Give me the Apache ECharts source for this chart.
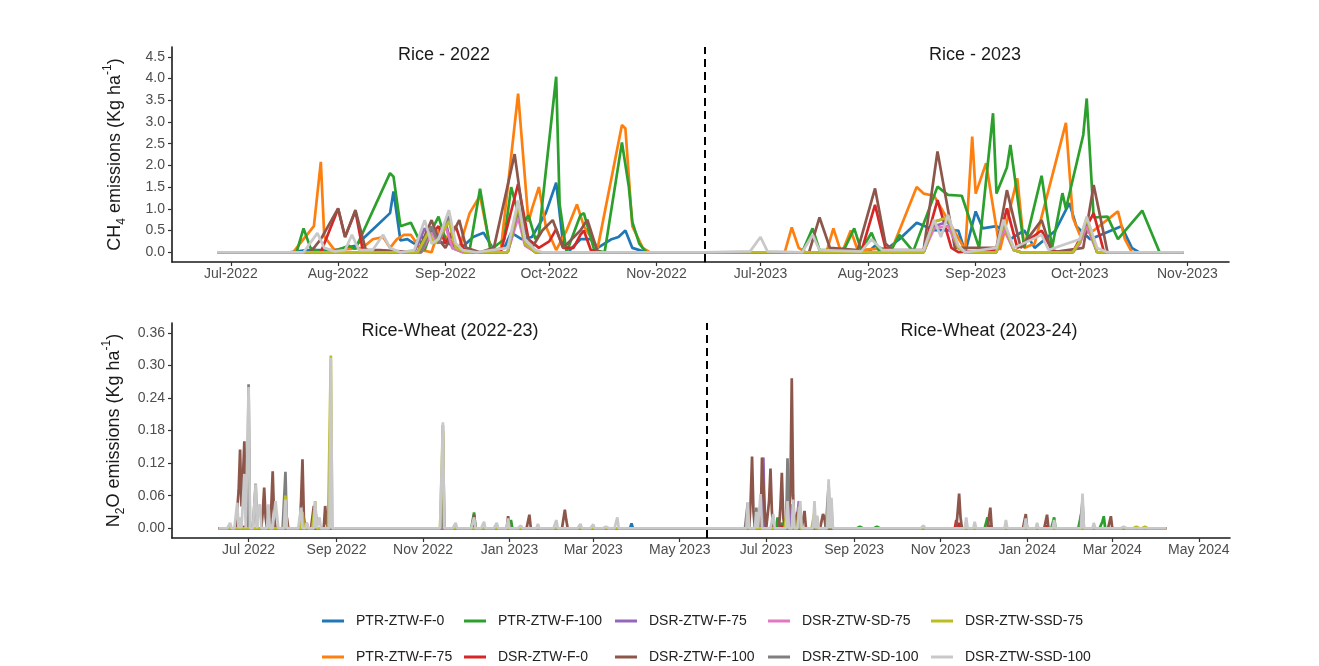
<!DOCTYPE html>
<html>
<head>
<meta charset="utf-8">
<title>CH4 and N2O emissions</title>
<script src="https://cdn.jsdelivr.net/npm/echarts@6/dist/echarts.min.js"></script>
<style>
  html, body { margin: 0; padding: 0; background: #fff; }
  #chart { width: 1319px; height: 666px; }
</style>
</head>
<body>
<div id="chart"></div>
<script>
// ---- treatments (legend order) and colours ----
const treatments = ["PTR-ZTW-F-0", "PTR-ZTW-F-75", "PTR-ZTW-F-100", "DSR-ZTW-F-0", "DSR-ZTW-F-75",
  "DSR-ZTW-F-100", "DSR-ZTW-SD-75", "DSR-ZTW-SD-100", "DSR-ZTW-SSD-75", "DSR-ZTW-SSD-100"];
const colors = ["#1f77b4", "#ff7f0e", "#2ca02c", "#d62728", "#9467bd",
  "#8c564b", "#e377c2", "#7f7f7f", "#bcbd22", "#c8c8c8"];

// ---- axis ticks ----
const ch4Ticks2022 = ["2022-07-01", "2022-08-01", "2022-09-01", "2022-10-01", "2022-11-01"];
const ch4TickLabels2022 = ["Jul-2022", "Aug-2022", "Sep-2022", "Oct-2022", "Nov-2022"];
const ch4Ticks2023 = ["2023-07-01", "2023-08-01", "2023-09-01", "2023-10-01", "2023-11-01"];
const ch4TickLabels2023 = ["Jul-2023", "Aug-2023", "Sep-2023", "Oct-2023", "Nov-2023"];
const n2oTicks = ["2022-07-01", "2022-09-01", "2022-11-01", "2023-01-01", "2023-03-01", "2023-05-01",
  "2023-07-01", "2023-09-01", "2023-11-01", "2024-01-01", "2024-03-01", "2024-05-01"];
const n2oTickLabels = ["Jul 2022", "Sep 2022", "Nov 2022", "Jan 2023", "Mar 2023", "May 2023",
  "Jul 2023", "Sep 2023", "Nov 2023", "Jan 2024", "Mar 2024", "May 2024"];
const ch4YTicks = [0, 0.5, 1, 1.5, 2, 2.5, 3, 3.5, 4, 4.5];
const n2oYTicks = [0, 0.06, 0.12, 0.18, 0.24, 0.30, 0.36];

// ---- CH4 fluxes, rice 2022 (kg/ha) ----
const rice22_ptrF0 = [["2022-06-27",0],["2022-07-18",0],["2022-07-23",0.05],["2022-07-31",0.05],["2022-08-06",0.15],["2022-08-12",0.6],["2022-08-16",0.9],["2022-08-17",1.4],["2022-08-19",0.27],["2022-08-21",0.3],["2022-08-23",0.2],["2022-08-25",0.35],["2022-08-27",0.3],["2022-08-29",0.25],["2022-09-02",0.2],["2022-09-05",0.05],["2022-09-09",0.35],["2022-09-12",0.45],["2022-09-15",0.05],["2022-09-18",0.1],["2022-09-20",0.45],["2022-09-23",0.3],["2022-09-26",0.35],["2022-09-30",0.9],["2022-10-03",1.6],["2022-10-05",0.2],["2022-10-07",0.05],["2022-10-10",0.3],["2022-10-13",0.3],["2022-10-15",0.1],["2022-10-19",0.3],["2022-10-21",0.35],["2022-10-23",0.5],["2022-10-25",0.1],["2022-10-29",0],["2022-11-15",0]];
const rice22_ptrF75 = [["2022-06-27",0],["2022-07-19",0],["2022-07-22",0.3],["2022-07-25",0.6],["2022-07-27",2.08],["2022-07-28",0.36],["2022-07-31",0.05],["2022-08-08",0.1],["2022-08-11",0.3],["2022-08-14",0.35],["2022-08-16",0.1],["2022-08-18",0.3],["2022-08-20",0.4],["2022-08-22",0.4],["2022-08-25",0.05],["2022-08-28",0],["2022-08-30",0.5],["2022-09-02",0.3],["2022-09-05",0.1],["2022-09-08",0.9],["2022-09-11",1.3],["2022-09-14",0.1],["2022-09-17",0.05],["2022-09-22",3.65],["2022-09-25",0.7],["2022-09-26",1.0],["2022-09-28",1.5],["2022-09-30",0.6],["2022-10-03",0.05],["2022-10-06",0.5],["2022-10-09",1.1],["2022-10-11",0.6],["2022-10-15",0.1],["2022-10-22",2.93],["2022-10-23",2.85],["2022-10-25",0.6],["2022-10-28",0.1],["2022-10-30",0],["2022-11-15",0]];
const rice22_ptrF100 = [["2022-06-27",0],["2022-07-20",0],["2022-07-22",0.55],["2022-07-24",0.1],["2022-07-27",0],["2022-08-01",0.05],["2022-08-04",0.15],["2022-08-06",0.08],["2022-08-16",1.82],["2022-08-17",1.74],["2022-08-19",0.6],["2022-08-22",0.68],["2022-08-24",0.35],["2022-08-26",0.05],["2022-08-28",0.5],["2022-08-30",0.82],["2022-09-01",0.3],["2022-09-04",0.1],["2022-09-08",0.05],["2022-09-11",1.46],["2022-09-14",0.05],["2022-09-18",0.3],["2022-09-20",1.5],["2022-09-23",0.6],["2022-09-25",0.85],["2022-09-27",0.3],["2022-09-28",0.4],["2022-10-03",4.04],["2022-10-04",1.1],["2022-10-06",0],["2022-10-10",0.85],["2022-10-11",0.9],["2022-10-14",0.05],["2022-10-17",0],["2022-10-22",2.53],["2022-10-24",1.5],["2022-10-25",0.7],["2022-10-27",0.2],["2022-10-29",0],["2022-11-15",0]];
const rice22_dsrF0 = [["2022-06-27",0],["2022-07-27",0],["2022-08-01",1.0],["2022-08-03",0.35],["2022-08-06",0.95],["2022-08-08",0.1],["2022-08-11",0],["2022-08-25",0],["2022-08-27",0.3],["2022-08-30",0.6],["2022-09-01",0.2],["2022-09-04",0.6],["2022-09-06",0.1],["2022-09-09",0],["2022-09-17",0],["2022-09-22",1.57],["2022-09-25",0.3],["2022-09-28",0.1],["2022-10-01",0.25],["2022-10-03",0.53],["2022-10-05",0.1],["2022-10-08",0.1],["2022-10-10",0.4],["2022-10-11",0.5],["2022-10-13",0.05],["2022-10-16",0],["2022-11-15",0]];
const rice22_dsrF75 = [["2022-06-27",0],["2022-08-23",0],["2022-08-26",0.55],["2022-08-29",0.2],["2022-09-01",0.7],["2022-09-03",0.1],["2022-09-06",0],["2022-09-19",0],["2022-09-22",0.9],["2022-09-24",0.2],["2022-09-27",0],["2022-11-15",0]];
const rice22_dsrF100 = [["2022-06-27",0],["2022-07-24",0],["2022-07-27",0.3],["2022-08-01",1.01],["2022-08-03",0.35],["2022-08-06",0.97],["2022-08-09",0.05],["2022-08-13",0.05],["2022-08-24",0],["2022-08-28",0.74],["2022-08-30",0.3],["2022-09-01",0.1],["2022-09-05",0.74],["2022-09-07",0.1],["2022-09-11",0],["2022-09-15",0.1],["2022-09-21",2.26],["2022-09-24",0.5],["2022-09-26",0.1],["2022-09-29",0.5],["2022-10-02",0.74],["2022-10-05",0.1],["2022-10-10",0.5],["2022-10-12",0.75],["2022-10-15",0],["2022-11-15",0]];
const rice22_dsrSD75 = [["2022-06-27",0],["2022-08-25",0],["2022-08-28",0.45],["2022-08-30",0.2],["2022-09-01",0.6],["2022-09-03",0.1],["2022-09-06",0],["2022-09-19",0],["2022-09-22",0.8],["2022-09-24",0.15],["2022-09-27",0],["2022-11-15",0]];
const rice22_dsrSD100 = [["2022-06-27",0],["2022-08-25",0],["2022-08-28",0.6],["2022-08-30",0.2],["2022-09-02",0.85],["2022-09-04",0.1],["2022-09-07",0],["2022-09-19",0],["2022-09-22",1.0],["2022-09-24",0.2],["2022-09-27",0],["2022-11-15",0]];
const rice22_dsrSSD75 = [["2022-06-27",0],["2022-08-24",0],["2022-08-27",0.45],["2022-08-29",0.2],["2022-09-02",0.71],["2022-09-04",0.1],["2022-09-07",0],["2022-09-19",0],["2022-09-22",1.1],["2022-09-24",0.2],["2022-09-27",0],["2022-11-15",0]];
const rice22_dsrSSD100 = [["2022-06-27",0],["2022-07-22",0],["2022-07-26",0.44],["2022-07-28",0.1],["2022-07-31",0.02],["2022-08-03",0.05],["2022-08-05",0.4],["2022-08-07",0.05],["2022-08-11",0.05],["2022-08-14",0.4],["2022-08-16",0.1],["2022-08-19",0],["2022-08-23",0.05],["2022-08-26",0.74],["2022-08-28",0.2],["2022-08-30",0.3],["2022-09-02",0.97],["2022-09-04",0.2],["2022-09-06",0.05],["2022-09-10",0],["2022-09-19",0.1],["2022-09-22",1.19],["2022-09-24",0.3],["2022-09-27",0.05],["2022-09-29",0],["2022-11-15",0]];

// ---- CH4 fluxes, rice 2023 (kg/ha) ----
const rice23_ptrF0 = [["2023-06-15",0],["2023-08-01",0],["2023-08-03",0.15],["2023-08-06",0.05],["2023-08-10",0.3],["2023-08-15",0.68],["2023-08-20",0.51],["2023-08-27",0.5],["2023-08-29",0],["2023-09-01",0.94],["2023-09-03",0.55],["2023-09-07",0.6],["2023-09-09",0.5],["2023-09-11",0.3],["2023-09-15",0.5],["2023-09-18",0.1],["2023-09-24",0.5],["2023-09-28",1.13],["2023-09-30",0.6],["2023-10-04",0.3],["2023-10-13",0.6],["2023-10-16",0.1],["2023-10-18",0],["2023-10-31",0]];
const rice23_ptrF75 = [["2023-06-15",0],["2023-07-08",0],["2023-07-10",0.57],["2023-07-12",0.1],["2023-07-14",0],["2023-07-20",0],["2023-07-22",0.55],["2023-07-24",0.05],["2023-07-25",0.1],["2023-07-27",0.5],["2023-07-29",0.05],["2023-08-08",0.1],["2023-08-15",1.5],["2023-08-17",1.35],["2023-08-20",1.3],["2023-08-29",0.05],["2023-08-31",2.66],["2023-09-01",1.35],["2023-09-04",2.05],["2023-09-08",0.05],["2023-09-13",1.7],["2023-09-15",0.1],["2023-09-18",0.2],["2023-09-27",2.98],["2023-09-29",0.8],["2023-10-01",0.4],["2023-10-05",0.5],["2023-10-12",0.94],["2023-10-14",0.3],["2023-10-16",0],["2023-10-31",0]];
const rice23_ptrF100 = [["2023-06-15",0],["2023-07-13",0],["2023-07-16",0.55],["2023-07-18",0.05],["2023-07-25",0.05],["2023-07-28",0.55],["2023-07-30",0.05],["2023-08-02",0.45],["2023-08-04",0.05],["2023-08-08",0.1],["2023-08-10",0.4],["2023-08-14",0.02],["2023-08-21",1.51],["2023-08-24",1.32],["2023-08-28",1.3],["2023-09-02",0.1],["2023-09-06",3.2],["2023-09-07",1.35],["2023-09-10",1.95],["2023-09-11",2.47],["2023-09-15",0.1],["2023-09-20",1.76],["2023-09-23",0.1],["2023-09-26",1.36],["2023-09-27",1.0],["2023-10-02",2.7],["2023-10-03",3.54],["2023-10-05",0.8],["2023-10-09",0.82],["2023-10-12",0.3],["2023-10-19",0.96],["2023-10-24",0],["2023-10-31",0]];
const rice23_dsrF0 = [["2023-06-15",0],["2023-07-30",0],["2023-08-03",1.09],["2023-08-06",0.1],["2023-08-08",0],["2023-08-17",0.05],["2023-08-21",1.2],["2023-08-25",0.1],["2023-08-27",0],["2023-09-07",0.05],["2023-09-10",1.01],["2023-09-13",0.1],["2023-09-20",0.5],["2023-09-23",0.05],["2023-09-25",0],["2023-09-29",0],["2023-10-01",0.3],["2023-10-05",0.9],["2023-10-08",0],["2023-10-31",0]];
const rice23_dsrF75 = [["2023-06-15",0],["2023-08-17",0],["2023-08-20",0.6],["2023-08-24",0.7],["2023-08-27",0.1],["2023-08-29",0],["2023-09-07",0],["2023-09-09",0.6],["2023-09-12",0.05],["2023-09-14",0],["2023-09-29",0],["2023-10-01",0.2],["2023-10-03",0.7],["2023-10-06",0],["2023-10-31",0]];
const rice23_dsrF100 = [["2023-06-15",0],["2023-07-15",0],["2023-07-18",0.8],["2023-07-21",0.1],["2023-07-29",0.05],["2023-08-03",1.47],["2023-08-06",0.2],["2023-08-08",0.05],["2023-08-17",0.05],["2023-08-21",2.32],["2023-08-26",0.1],["2023-09-07",0.1],["2023-09-10",1.43],["2023-09-14",0.1],["2023-09-20",0.74],["2023-09-23",0],["2023-10-02",0.1],["2023-10-05",1.55],["2023-10-09",0],["2023-10-31",0]];
const rice23_dsrSD75 = [["2023-06-15",0],["2023-08-17",0],["2023-08-20",0.55],["2023-08-24",0.6],["2023-08-27",0.1],["2023-08-29",0],["2023-09-07",0],["2023-09-09",0.55],["2023-09-12",0.05],["2023-09-14",0],["2023-09-29",0],["2023-10-01",0.2],["2023-10-03",0.6],["2023-10-06",0],["2023-10-31",0]];
const rice23_dsrSD100 = [["2023-06-15",0],["2023-08-17",0],["2023-08-20",0.7],["2023-08-24",0.8],["2023-08-27",0.1],["2023-08-29",0],["2023-09-07",0],["2023-09-09",0.7],["2023-09-12",0.05],["2023-09-14",0],["2023-09-29",0],["2023-10-01",0.25],["2023-10-03",0.75],["2023-10-06",0],["2023-10-31",0]];
const rice23_dsrSSD75 = [["2023-06-15",0],["2023-08-17",0],["2023-08-20",0.7],["2023-08-24",0.8],["2023-08-27",0.1],["2023-08-29",0],["2023-09-07",0],["2023-09-09",0.7],["2023-09-12",0.05],["2023-09-14",0],["2023-09-29",0],["2023-10-01",0.25],["2023-10-03",0.78],["2023-10-06",0],["2023-10-31",0]];
const rice23_dsrSSD100 = [["2023-06-15",0],["2023-06-28",0.02],["2023-07-01",0.35],["2023-07-03",0.02],["2023-07-13",0],["2023-07-16",0.4],["2023-07-18",0.05],["2023-07-30",0.02],["2023-08-02",0.3],["2023-08-05",0.05],["2023-08-17",0.05],["2023-08-20",0.75],["2023-08-22",0.35],["2023-08-24",0.86],["2023-08-27",0.15],["2023-08-29",0],["2023-09-07",0.1],["2023-09-09",0.75],["2023-09-12",0.1],["2023-09-20",0.4],["2023-09-22",0.05],["2023-10-01",0.3],["2023-10-03",0.82],["2023-10-06",0.1],["2023-10-09",0],["2023-10-31",0]];

// ---- N2O fluxes, rice-wheat 2022-24: measured peaks (kg/ha); other days are 0 ----
const n2oStart = "2022-06-10";
const n2oEnd = "2024-04-08";
const rw_ptrF0 = [["2023-03-28",0.009]];
const rw_ptrF75 = [["2023-07-24",0.003]];
const rw_ptrF100 = [["2022-08-30",0.003],["2022-12-07",0.029],["2023-01-02",0.015],["2023-07-09",0.02],["2023-07-12",0.01],["2023-09-05",0.003],["2023-09-17",0.003],["2023-12-04",0.02],["2024-01-20",0.02],["2024-02-08",0.025],["2024-02-23",0.012],["2024-02-24",0.022]];
const rw_dsrF0 = [["2022-06-28",0.003],["2022-08-08",0.005],["2022-08-16",0.004],["2022-08-24",0.003],["2022-11-14",0.008],["2022-12-07",0.004],["2022-12-31",0.003],["2023-02-09",0.003],["2023-07-12",0.004],["2023-07-19",0.006],["2023-07-24",0.005],["2023-08-14",0.004],["2023-11-12",0.015],["2023-11-14",0.01],["2023-12-06",0.005],["2024-01-15",0.005],["2024-02-09",0.005]];
const rw_dsrF75 = [["2022-08-08",0.02],["2022-08-17",0.035],["2023-06-29",0.13],["2023-07-19",0.044],["2023-07-24",0.05]];
const rw_dsrF100 = [["2022-06-24",0.07],["2022-06-25",0.145],["2022-06-26",0.04],["2022-06-27",0.09],["2022-06-28",0.16],["2022-06-29",0.03],["2022-07-11",0.03],["2022-07-12",0.075],["2022-07-13",0.02],["2022-07-17",0.04],["2022-07-18",0.105],["2022-07-19",0.02],["2022-07-28",0.02],["2022-08-07",0.05],["2022-08-08",0.127],["2022-08-09",0.02],["2022-08-16",0.041],["2022-08-24",0.041],["2022-08-25",0.01],["2022-12-07",0.025],["2022-12-31",0.022],["2023-01-15",0.025],["2023-02-09",0.034],["2023-02-10",0.015],["2023-06-20",0.05],["2023-06-21",0.132],["2023-06-22",0.03],["2023-06-28",0.13],["2023-06-29",0.132],["2023-06-30",0.03],["2023-07-03",0.05],["2023-07-04",0.11],["2023-07-05",0.03],["2023-07-11",0.04],["2023-07-12",0.102],["2023-07-13",0.02],["2023-07-18",0.06],["2023-07-19",0.276],["2023-07-20",0.06],["2023-07-23",0.03],["2023-07-28",0.032],["2023-08-10",0.026],["2023-08-11",0.02],["2023-11-13",0.03],["2023-11-14",0.064],["2023-11-15",0.02],["2023-12-05",0.02],["2023-12-06",0.038],["2023-12-31",0.026],["2024-01-15",0.025],["2024-02-29",0.022]];
const rw_dsrSD75 = [["2022-08-08",0.012],["2022-08-11",0.01],["2022-08-17",0.015],["2023-07-24",0.01],["2023-08-14",0.007],["2023-08-16",0.01]];
const rw_dsrSD100 = [["2022-07-01",0.265],["2022-07-06",0.082],["2022-07-27",0.104],["2022-08-17",0.04],["2022-11-15",0.19],["2023-06-18",0.047],["2023-06-24",0.038],["2023-07-16",0.129],["2023-07-24",0.03],["2023-08-14",0.08],["2024-02-09",0.05]];
const rw_dsrSSD75 = [["2022-07-27",0.06],["2022-08-08",0.03],["2022-08-17",0.05],["2022-08-28",0.318],["2022-11-15",0.18],["2023-07-16",0.044],["2023-07-24",0.04],["2023-08-04",0.03],["2023-08-14",0.045],["2023-08-16",0.038],["2024-03-18",0.003],["2024-03-24",0.003]];
const rw_dsrSSD100 = [["2022-06-18",0.01],["2022-06-23",0.047],["2022-06-25",0.02],["2022-06-28",0.1],["2022-07-01",0.26],["2022-07-06",0.081],["2022-07-08",0.038],["2022-07-09",0.044],["2022-07-15",0.044],["2022-07-20",0.05],["2022-07-21",0.05],["2022-07-27",0.053],["2022-08-07",0.038],["2022-08-11",0.01],["2022-08-17",0.049],["2022-08-20",0.02],["2022-08-28",0.314],["2022-11-15",0.195],["2022-11-24",0.01],["2022-12-07",0.02],["2022-12-14",0.012],["2022-12-23",0.01],["2022-12-31",0.018],["2023-01-09",0.005],["2023-01-21",0.008],["2023-02-03",0.015],["2023-02-20",0.008],["2023-03-01",0.007],["2023-03-10",0.003],["2023-03-18",0.02],["2023-06-18",0.047],["2023-06-24",0.03],["2023-06-27",0.063],["2023-07-06",0.026],["2023-07-16",0.05],["2023-07-20",0.053],["2023-07-25",0.05],["2023-08-04",0.05],["2023-08-06",0.023],["2023-08-14",0.09],["2023-08-16",0.056],["2023-10-20",0.005],["2023-11-19",0.02],["2023-11-25",0.012],["2023-12-17",0.015],["2023-12-31",0.018],["2024-01-08",0.01],["2024-01-20",0.015],["2024-01-28",0.003],["2024-02-09",0.064],["2024-02-17",0.01],["2024-03-09",0.003]];

const rice2022 = [rice22_ptrF0, rice22_ptrF75, rice22_ptrF100, rice22_dsrF0, rice22_dsrF75, rice22_dsrF100, rice22_dsrSD75, rice22_dsrSD100, rice22_dsrSSD75, rice22_dsrSSD100];
const rice2023 = [rice23_ptrF0, rice23_ptrF75, rice23_ptrF100, rice23_dsrF0, rice23_dsrF75, rice23_dsrF100, rice23_dsrSD75, rice23_dsrSD100, rice23_dsrSSD75, rice23_dsrSSD100];
const riceWheat = [rw_ptrF0, rw_ptrF75, rw_ptrF100, rw_dsrF0, rw_dsrF75, rw_dsrF100, rw_dsrSD75, rw_dsrSD100, rw_dsrSSD75, rw_dsrSSD100];

// ---- helpers ----
function toTime(s) {
  const [y, m, d] = s.split("-").map(Number);
  return new Date(y, m - 1, d).getTime();
}
function pairs(list) {
  return list.map(([d, v]) => [toTime(d), v]);
}
// one value per day: the listed peaks, zero on every other day
function daily(peaks, start, end) {
  const lookup = new Map(peaks.map(([d, v]) => [toTime(d), v]));
  const [y, m, d] = start.split("-").map(Number);
  const last = toTime(end);
  const out = [];
  for (let i = 0; ; i++) {
    const t = new Date(y, m - 1, d + i).getTime();
    if (t > last) break;
    out.push([t, lookup.has(t) ? lookup.get(t) : 0]);
  }
  return out;
}
function labelMap(ticks, labels) {
  const map = new Map();
  ticks.forEach((t, i) => map.set(toTime(t), labels[i]));
  return map;
}

const FONT = "'Liberation Sans', Arial, Helvetica, sans-serif";
const AXIS_COLOR = "#1a1a1a";
const LABEL_COLOR = "#4d4d4d";

// dates are drawn on a linear (millisecond) axis so the month ticks can be placed exactly
function dateAxis(gridIndex, min, max, ticks, labels) {
  const map = labelMap(ticks, labels);
  const values = ticks.map(toTime);
  return {
    type: "value", gridIndex, min: toTime(min), max: toTime(max), scale: true,
    axisLine: { show: true, onZero: false, lineStyle: { color: AXIS_COLOR, width: 1.6 } },
    axisTick: { show: true, length: 4, customValues: values, lineStyle: { color: "#333", width: 1.2 } },
    axisLabel: { show: true, customValues: values, margin: 5, fontSize: 14, color: LABEL_COLOR, fontFamily: FONT,
      formatter: v => map.get(v) || "", hideOverlap: false, showMinLabel: true, showMaxLabel: true },
    splitLine: { show: false }
  };
}
function valueAxis(gridIndex, min, max, ticks, decimals, name, show) {
  return {
    type: "value", gridIndex, min, max, show,
    name, nameLocation: "middle", nameGap: 44,
    nameTextStyle: {
      fontSize: 18, color: "#1a1a1a", fontFamily: FONT, lineHeight: 26,
      rich: {
        sub: { fontSize: 12, lineHeight: 12, verticalAlign: "bottom", fontFamily: FONT, color: "#1a1a1a" },
        sup: { fontSize: 12, lineHeight: 12, verticalAlign: "top", fontFamily: FONT, color: "#1a1a1a" }
      }
    },
    axisLine: { show: true, onZero: false, lineStyle: { color: AXIS_COLOR, width: 1.6 } },
    axisTick: { show: true, length: 4, customValues: ticks, lineStyle: { color: "#333", width: 1.2 } },
    axisLabel: { show: true, customValues: ticks, margin: 7, fontSize: 14, color: LABEL_COLOR, fontFamily: FONT,
      formatter: v => v.toFixed(decimals), showMinLabel: true, showMaxLabel: true },
    splitLine: { show: false }
  };
}

const dashed = { type: [8, 5], color: "#000", width: 2 };

const series = [];
function addLines(groups, xAxisIndex, yAxisIndex, build) {
  groups.forEach((list, i) => {
    series.push({
      type: "line", name: treatments[i], xAxisIndex, yAxisIndex,
      data: build(list), symbol: "none", showSymbol: false,
      lineStyle: { width: 2.7, color: colors[i] }, itemStyle: { color: colors[i] },
      emphasis: { disabled: true }, silent: true, z: 2 + i, clip: false
    });
  });
}
addLines(rice2022, 0, 0, pairs);
addLines(rice2023, 1, 1, pairs);
addLines(riceWheat, 2, 2, list => daily(list, n2oStart, n2oEnd));

// facet divider (top) and season divider (bottom)
series.push({
  type: "line", xAxisIndex: 1, yAxisIndex: 1, data: [], silent: true, clip: false,
  markLine: { silent: true, symbol: ["none", "none"], label: { show: false }, lineStyle: dashed,
    data: [{ xAxis: toTime("2023-06-15") }] }
});
series.push({
  type: "line", xAxisIndex: 2, yAxisIndex: 2, data: [], silent: true, clip: false,
  markLine: { silent: true, symbol: ["none", "none"], label: { show: false }, lineStyle: dashed,
    data: [{ xAxis: toTime("2023-05-20") }] }
});

const legendColumns = [
  { left: 322, names: [treatments[0], treatments[1]] },
  { left: 464, names: [treatments[2], treatments[3]] },
  { left: 615, names: [treatments[4], treatments[5]] },
  { left: 768, names: [treatments[6], treatments[7]] },
  { left: 931, names: [treatments[8], treatments[9]] }
];

const chart = echarts.init(document.getElementById("chart"), null, { renderer: "canvas" });
chart.setOption({
  animation: false,
  backgroundColor: "#fff",
  textStyle: { fontFamily: FONT },
  title: [
    { text: "Rice - 2022", left: 444, top: 46, textAlign: "center" },
    { text: "Rice - 2023", left: 975, top: 46, textAlign: "center" },
    { text: "Rice-Wheat (2022-23)", left: 450, top: 322, textAlign: "center" },
    { text: "Rice-Wheat (2023-24)", left: 989, top: 322, textAlign: "center" }
  ].map(t => Object.assign(t, { padding: 0, textStyle: { fontSize: 18, fontWeight: "normal", color: "#1a1a1a", fontFamily: FONT } })),
  grid: [
    { left: 172, top: 47, width: 533, height: 215 },
    { left: 705, top: 47, width: 524, height: 215 },
    { left: 172, top: 323, width: 1058, height: 215 }
  ],
  xAxis: [
    dateAxis(0, "2022-06-14", "2022-11-15", ch4Ticks2022, ch4TickLabels2022),
    dateAxis(1, "2023-06-15", "2023-11-13", ch4Ticks2023, ch4TickLabels2023),
    dateAxis(2, "2022-05-08", "2024-05-23", n2oTicks, n2oTickLabels)
  ],
  yAxis: [
    valueAxis(0, -0.225, 4.725, ch4YTicks, 1, "CH{sub|4} emissions (Kg ha{sup|-1})", true),
    valueAxis(1, -0.225, 4.725, ch4YTicks, 1, "", false),
    valueAxis(2, -0.018, 0.378, n2oYTicks, 2, "N{sub|2}O emissions (Kg ha{sup|-1})", true)
  ],
  legend: legendColumns.map(c => ({
    orient: "vertical", left: c.left, top: 613, data: c.names,
    icon: "rect", itemWidth: 22, itemHeight: 3, itemGap: 20, padding: 0,
    selectedMode: false,
    textStyle: { fontSize: 14, color: "#222", fontFamily: FONT, lineHeight: 16, padding: [0, 0, 0, 7] }
  })),
  series
});
</script>
</body>
</html>
